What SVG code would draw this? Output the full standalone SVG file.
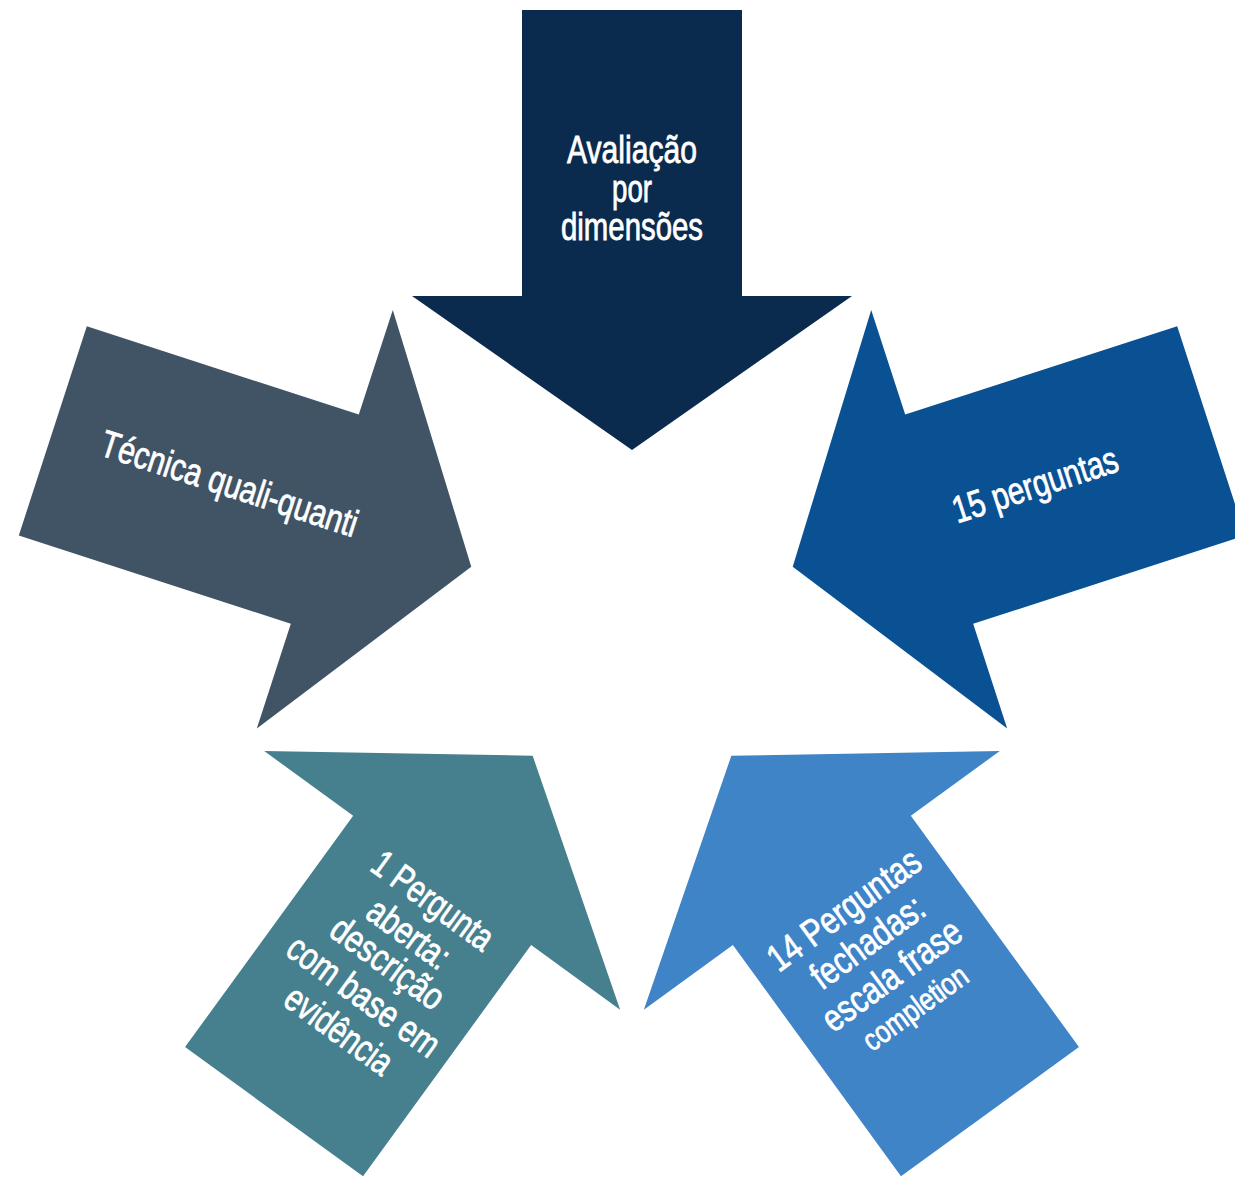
<svg xmlns="http://www.w3.org/2000/svg" width="1235" height="1177" viewBox="0 0 1235 1177">
<style>
.lbl{font-family:"Liberation Sans","DejaVu Sans",sans-serif;font-size:38px;fill:#ffffff;stroke:#ffffff;stroke-width:0.8px;text-anchor:middle}
.sm{font-size:31px}
</style>
<defs>
<path id="arrow" d="M522,10 H742 V296 H852 L632,450 L412,296 H522 Z"/>
</defs>
<rect width="1235" height="1177" fill="#ffffff"/>
<g id="connectors"></g>
<g id="node-top">
<use href="#arrow" fill="#0b2b4e"/>
<text class="lbl" x="632" y="163" textLength="130" lengthAdjust="spacingAndGlyphs">Avaliação</text>
<text class="lbl" x="632" y="202" textLength="40" lengthAdjust="spacingAndGlyphs">por</text>
<text class="lbl" x="632" y="240" textLength="142" lengthAdjust="spacingAndGlyphs">dimensões</text>
</g>
<g id="node-right">
<use href="#arrow" fill="#0a5194" transform="rotate(72 632 619)"/>
<text class="lbl" transform="translate(1039,497) rotate(-18)" x="0" y="0" textLength="172" lengthAdjust="spacingAndGlyphs">15 perguntas</text>
</g>
<g id="node-bottom-right">
<use href="#arrow" fill="#3f84c6" transform="rotate(144 632 619)"/>
<g transform="translate(851.5,920) rotate(-36)">
<text class="lbl" x="0" y="0" textLength="180" lengthAdjust="spacingAndGlyphs">14 Perguntas</text>
<text class="lbl" x="0" y="40" textLength="131" lengthAdjust="spacingAndGlyphs">fechadas:</text>
<text class="lbl" x="0" y="81" textLength="163" lengthAdjust="spacingAndGlyphs">escala frase</text>
<text class="lbl sm" x="0" y="119" textLength="122" lengthAdjust="spacingAndGlyphs">completion</text>
</g>
</g>
<g id="node-bottom-left">
<use href="#arrow" fill="#46808e" transform="rotate(216 632 619)"/>
<g transform="translate(425.5,911) rotate(36)">
<text class="lbl" x="0" y="0" textLength="141" lengthAdjust="spacingAndGlyphs">1 Pergunta</text>
<text class="lbl" x="0" y="41" textLength="93" lengthAdjust="spacingAndGlyphs">aberta:</text>
<text class="lbl" x="0" y="77" textLength="131" lengthAdjust="spacingAndGlyphs">descrição</text>
<text class="lbl" x="0" y="118" textLength="179" lengthAdjust="spacingAndGlyphs">com base em</text>
<text class="lbl" x="0" y="160" textLength="124" lengthAdjust="spacingAndGlyphs">evidência</text>
</g>
</g>
<g id="node-left">
<use href="#arrow" fill="#415466" transform="rotate(-72 632 619)"/>
<text class="lbl" transform="translate(225.5,496) rotate(18)" x="0" y="0" textLength="268" lengthAdjust="spacingAndGlyphs">Técnica quali-quanti</text>
</g>
</svg>
